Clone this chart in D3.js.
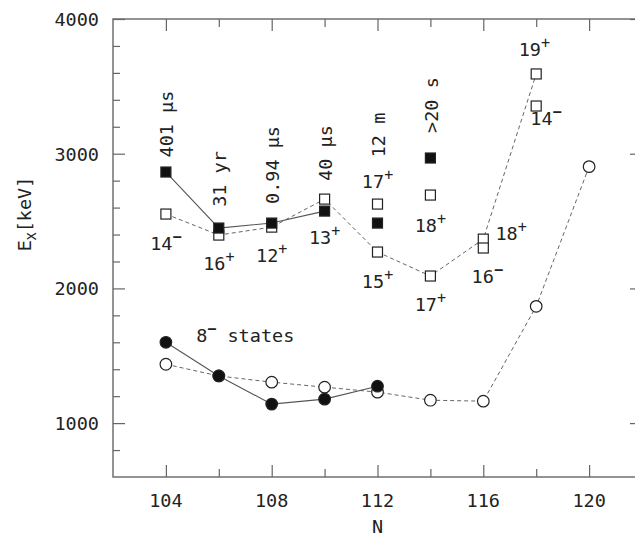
<!DOCTYPE html>
<html>
<head>
<meta charset="utf-8">
<script src="https://cdn.jsdelivr.net/npm/d3@7"></script>
<style>
  body { margin: 0; background: #fff; overflow: hidden; }
  text { font-family: "DejaVu Sans Mono", monospace; fill: #222; }
</style>
</head>
<body>
<svg id="chart" width="635" height="540"></svg>
<script>
// K-isomer band heads (squares)
const kLineN = [104, 106, 108, 110];
const kLineE = [2864, 2448, 2485, 2574];
const kSoloN = [112, 114];
const kSoloE = [2485, 2968];
const kOpenN = [104, 106, 108, 110, 112, 114, 116, 118];
const kOpenE = [2552, 2396, 2455, 2663, 2270, 2092, 2366, 3592];
const kOpenSoloN = [112, 114, 116, 118];
const kOpenSoloE = [2626, 2693, 2300, 3354];

// 8- states (circles)
const s8FilledN = [104, 106, 108, 110, 112];
const s8FilledE = [1600, 1350, 1141, 1178, 1274];
const s8OpenN = [104, 106, 108, 110, 112, 114, 116, 118, 120];
const s8OpenE = [1437, 1350, 1304, 1267, 1230, 1170, 1163, 1867, 2904];

// half-lives (rotated), anchored at N / E
const lifeText = ["401 µs", "31 yr", "0.94 µs", "40 µs", "12 m", ">20 s"];
const lifeN = [104, 106, 108, 110, 112, 114];
const lifeE = [3220, 2812, 2916, 3005, 3139, 3361];

// spin-parity labels
const spinNum = ["14", "16", "12", "13", "17", "15", "18", "17", "18", "16", "19", "14"];
const spinSign = ["−", "+", "+", "+", "+", "+", "+", "+", "+", "−", "+", "−"];
const spinN = [104, 106, 108, 110, 112, 112, 114, 114, 117.05, 116.15, 117.93, 118.37];
const spinE = [2285, 2136, 2196, 2329, 2745, 2002, 2418, 1832, 2359, 2040, 3725, 3213];

const xMajor = [104, 108, 112, 116, 120];
const xMinor = [106, 110, 114, 118];
const yMajor = [1000, 2000, 3000, 4000];
const yMinor = [800, 1200, 1400, 1600, 1800, 2200, 2400, 2600, 2800, 3200, 3400, 3600, 3800];

// right edge of the frame sits just outside the picture
const padL = 113, padR = 642, padT = 19, padB = 477;
const svg = d3.select("#chart");

const x = d3.scaleLinear().domain([102, 122]).range([padL, padR]);
const y = d3.scaleLinear().domain([600, 4000]).range([padB, padT]);

const axisColor = "#666";

// frame
svg.append("rect")
  .attr("x", padL).attr("y", padT)
  .attr("width", padR - padL).attr("height", padB - padT)
  .attr("fill", "none").attr("stroke", axisColor).attr("stroke-width", 1.4);

// ticks, inward on all four sides
function tickSet(g, axisFn, scale, vals, len) {
  g.call(axisFn(scale).tickValues(vals).tickSize(len).tickFormat(""))
    .call(s => s.select(".domain").remove())
    .call(s => s.selectAll("line").attr("stroke", axisColor).attr("stroke-width", 1.2));
}
const gB = svg.append("g").attr("transform", `translate(0,${padB})`);
tickSet(gB.append("g"), d3.axisTop, x, xMajor, 12);
tickSet(gB.append("g"), d3.axisTop, x, xMinor, 8);
const gT = svg.append("g").attr("transform", `translate(0,${padT})`);
tickSet(gT.append("g"), d3.axisBottom, x, xMajor, 12);
tickSet(gT.append("g"), d3.axisBottom, x, xMinor, 8);
const gL = svg.append("g").attr("transform", `translate(${padL},0)`);
tickSet(gL.append("g"), d3.axisRight, y, yMajor, 12);
tickSet(gL.append("g"), d3.axisRight, y, yMinor, 7);
const gR = svg.append("g").attr("transform", `translate(${padR},0)`);
tickSet(gR.append("g"), d3.axisLeft, y, yMajor, 12);
tickSet(gR.append("g"), d3.axisLeft, y, yMinor, 7);

// tick labels
svg.append("g").selectAll("text")
  .data(xMajor).enter().append("text")
  .attr("x", d => x(d)).attr("y", padB + 30)
  .attr("text-anchor", "middle").attr("font-size", 18.5)
  .text(d => d);
svg.append("g").selectAll("text")
  .data(yMajor).enter().append("text")
  .attr("x", padL - 14).attr("y", d => y(d) + 7)
  .attr("text-anchor", "end").attr("font-size", 18.5)
  .text(d => d);

// axis titles
svg.append("text")
  .attr("x", x(112)).attr("y", 533)
  .attr("text-anchor", "middle").attr("font-size", 18.5)
  .text("N");
const yt = svg.append("text")
  .attr("transform", "translate(31,214) rotate(-90)")
  .attr("text-anchor", "middle").attr("font-size", 18.5);
yt.append("tspan").text("E");
yt.append("tspan").attr("dy", 5).attr("font-size", 13).text("X");
yt.append("tspan").attr("dy", -5).text("[keV]");

const line = d3.line().x(d => x(d[0])).y(d => y(d[1]));
const zip = (a, b) => a.map((v, i) => [v, b[i]]);

// lines
svg.append("path").datum(zip(kOpenN, kOpenE)).attr("d", line)
  .attr("fill", "none").attr("stroke", "#666").attr("stroke-width", 1).attr("stroke-dasharray", "4,3");
svg.append("path").datum(zip(kLineN, kLineE)).attr("d", line)
  .attr("fill", "none").attr("stroke", "#555").attr("stroke-width", 1.1);
svg.append("path").datum(zip(s8OpenN, s8OpenE)).attr("d", line)
  .attr("fill", "none").attr("stroke", "#666").attr("stroke-width", 1).attr("stroke-dasharray", "4,3");
svg.append("path").datum(zip(s8FilledN, s8FilledE)).attr("d", line)
  .attr("fill", "none").attr("stroke", "#555").attr("stroke-width", 1.1);

// markers
function squares(pts, fill) {
  svg.append("g").selectAll("rect").data(pts).enter().append("rect")
    .attr("x", d => x(d[0]) - 5).attr("y", d => y(d[1]) - 5)
    .attr("width", 10).attr("height", 10)
    .attr("fill", fill).attr("stroke", "#222").attr("stroke-width", 1.2);
}
function circles(pts, fill) {
  svg.append("g").selectAll("circle").data(pts).enter().append("circle")
    .attr("cx", d => x(d[0])).attr("cy", d => y(d[1])).attr("r", 5.8)
    .attr("fill", fill).attr("stroke", "#222").attr("stroke-width", 1.2);
}
squares(zip(kOpenN, kOpenE), "#fff");
squares(zip(kOpenSoloN, kOpenSoloE), "#fff");
squares(zip(kLineN, kLineE), "#111");
squares(zip(kSoloN, kSoloE), "#111");
circles(zip(s8OpenN, s8OpenE), "#fff");
circles(zip(s8FilledN, s8FilledE), "#111");

// half-life labels
svg.append("g").selectAll("text")
  .data(lifeText).enter().append("text")
  .attr("transform", (d, i) => `translate(${x(lifeN[i]) + 1},${y(lifeE[i])}) rotate(-90)`)
  .attr("text-anchor", "middle").attr("dy", "0.35em").attr("font-size", 18.5)
  .text(d => d);

// spin labels
const sp = svg.append("g").selectAll("text")
  .data(spinNum).enter().append("text")
  .attr("x", (d, i) => x(spinN[i])).attr("y", (d, i) => y(spinE[i]))
  .attr("text-anchor", "middle").attr("font-size", 18.5);
sp.append("tspan").text(d => d);
sp.append("tspan").attr("dy", -8).attr("font-size", 15)
  .attr("font-weight", (d, i) => spinSign[i] === "−" ? "bold" : "normal")
  .text((d, i) => spinSign[i]);

// 8- states
const st = svg.append("text")
  .attr("x", x(107)).attr("y", y(1601))
  .attr("text-anchor", "middle").attr("font-size", 18.5);
st.append("tspan").text("8");
st.append("tspan").attr("dy", -8).attr("font-size", 15).attr("font-weight", "bold").text("−");
st.append("tspan").attr("dy", 8).text(" states");
</script>
</body>
</html>
